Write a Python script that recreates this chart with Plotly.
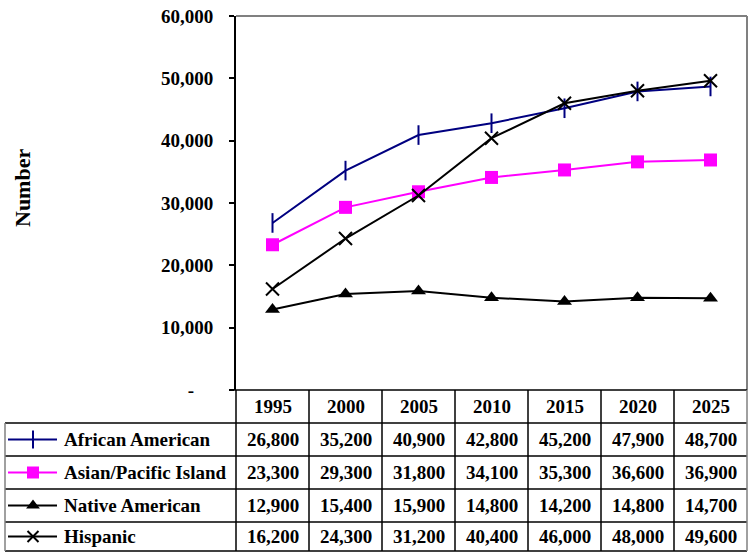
import plotly.graph_objects as go

# ---- data ----
years = ["1995", "2000", "2005", "2010", "2015", "2020", "2025"]
african_american = [26800, 35200, 40900, 42800, 45200, 47900, 48700]
asian_pacific = [23300, 29300, 31800, 34100, 35300, 36600, 36900]
native_american = [12900, 15400, 15900, 14800, 14200, 14800, 14700]
hispanic = [16200, 24300, 31200, 40400, 46000, 48000, 49600]
series_names = ["African American", "Asian/Pacific Island", "Native American", "Hispanic"]
y_tick_values = [0, 10000, 20000, 30000, 40000, 50000, 60000]

series_values = [african_american, asian_pacific, native_american, hispanic]

# ---- styles ----
styles = [
    dict(line=dict(color="#000080", width=2),
         marker=dict(symbol="line-ns", size=14, color="#000080",
                     line=dict(color="#000080", width=2))),
    dict(line=dict(color="#FF00FF", width=2),
         marker=dict(symbol="square", size=13, color="#FF00FF",
                     line=dict(color="#FF00FF", width=0))),
    dict(line=dict(color="#000000", width=2),
         marker=dict(symbol="triangle-up", size=13, color="#000000",
                     line=dict(color="#000000", width=0))),
    dict(line=dict(color="#000000", width=2),
         marker=dict(symbol="x-thin", size=13, color="#000000",
                     line=dict(color="#000000", width=2))),
]
# slightly smaller markers for the keys in the table
key_sizes = [13, 12, 12, 11]

W, H = 755, 552
PLOT_L, PLOT_R, PLOT_T, PLOT_B = 236, 747, 16, 390
TABLE_LEFT = 5
ROW_LINES = [390, 423, 456, 489, 522, 551]
FONT = "Liberation Serif"
FS = 19

n_cols = len(years)
col_w = (PLOT_R - PLOT_L) / n_cols
col_lines = [PLOT_L + i * col_w for i in range(n_cols + 1)]
col_centers = [PLOT_L + (i + 0.5) * col_w for i in range(n_cols)]
row_centers = [(ROW_LINES[i] + ROW_LINES[i + 1]) / 2 for i in range(len(ROW_LINES) - 1)]


def fmt(v):
    return "-" if v == 0 else f"{v:,}"


fig = go.Figure()

# chart lines
for name, vals, st in zip(series_names, series_values, styles):
    fig.add_trace(go.Scatter(x=years, y=vals, name=name, mode="lines+markers",
                             line=st["line"], marker=st["marker"],
                             xaxis="x", yaxis="y", showlegend=False))

# legend keys inside the table (pixel overlay axes)
for i, st in enumerate(styles):
    yc = row_centers[i + 1]
    fig.add_trace(go.Scatter(x=[8, 57], y=[yc, yc], mode="lines", line=st["line"],
                             xaxis="x2", yaxis="y2", showlegend=False, hoverinfo="skip"))
    mk = dict(st["marker"])
    mk["size"] = key_sizes[i]
    fig.add_trace(go.Scatter(x=[33], y=[yc], mode="markers", marker=mk,
                             xaxis="x2", yaxis="y2", showlegend=False, hoverinfo="skip"))

shapes = []
# plot frame: gray top and right
shapes.append(dict(type="line", xref="x2", yref="y2", x0=PLOT_L, x1=PLOT_R, y0=PLOT_T, y1=PLOT_T,
                   line=dict(color="#808080", width=2)))
shapes.append(dict(type="line", xref="x2", yref="y2", x0=PLOT_R, x1=PLOT_R, y0=PLOT_T, y1=PLOT_B,
                   line=dict(color="#808080", width=2)))

# table grid
tl = dict(color="#000000", width=1.5)
for k, y in enumerate(ROW_LINES):
    x0 = PLOT_L - 4 if k == 0 else TABLE_LEFT
    shapes.append(dict(type="line", xref="x2", yref="y2", x0=x0, x1=PLOT_R, y0=y, y1=y, line=tl))
for i, x in enumerate(col_lines):
    shapes.append(dict(type="line", xref="x2", yref="y2", x0=x, x1=x,
                       y0=ROW_LINES[0], y1=ROW_LINES[-1],
                       line=dict(color="#808080" if i == n_cols else "#000000", width=1.5)))
shapes.append(dict(type="line", xref="x2", yref="y2", x0=TABLE_LEFT, x1=TABLE_LEFT,
                   y0=ROW_LINES[1], y1=ROW_LINES[-1], line=dict(color="#808080", width=1.5)))

annotations = []
for yr, xc in zip(years, col_centers):
    annotations.append(dict(x=xc, y=row_centers[0], xref="x2", yref="y2", text=yr,
                            showarrow=False, xanchor="center", yanchor="middle"))
for r, (name, vals) in enumerate(zip(series_names, series_values)):
    yc = row_centers[r + 1]
    annotations.append(dict(x=62, y=yc, xref="x2", yref="y2", text=name,
                            showarrow=False, xanchor="left", yanchor="middle"))
    for v, xc in zip(vals, col_centers):
        annotations.append(dict(x=xc, y=yc, xref="x2", yref="y2", text=fmt(v),
                                showarrow=False, xanchor="center", yanchor="middle"))
annotations.append(dict(x=22, y=188, xref="x2", yref="y2", text="Number", textangle=-90,
                        font=dict(size=22),
                        showarrow=False, xanchor="center", yanchor="middle"))

fig.update_layout(
    width=W, height=H,
    margin=dict(l=0, r=0, t=0, b=0, autoexpand=False),
    paper_bgcolor="white", plot_bgcolor="rgba(0,0,0,0)",
    font=dict(family=FONT, size=FS, color="black", weight="bold"),
    xaxis=dict(domain=[PLOT_L / W, PLOT_R / W], range=[-0.5, n_cols - 0.5],
               showticklabels=False, showgrid=False, zeroline=False, showline=False,
               ticks="", automargin=False),
    yaxis=dict(domain=[1 - PLOT_B / H, 1 - PLOT_T / H], range=[0, 60000],
               tickvals=y_tick_values,
               ticktext=[fmt(v) + ("\u2007\u2007" if v == 0 else "") for v in y_tick_values],
               ticks="outside", ticklen=5, tickwidth=2, tickcolor="black",
               ticklabelstandoff=12, automargin=False,
               showgrid=False, zeroline=False, showline=True, linecolor="black", linewidth=2),
    xaxis2=dict(domain=[0, 1], range=[0, W], visible=False, anchor="y2", automargin=False),
    yaxis2=dict(domain=[0, 1], range=[H, 0], visible=False, anchor="x2", automargin=False),
    shapes=shapes,
    annotations=annotations,
    showlegend=False,
)

fig.write_html("out.html")
